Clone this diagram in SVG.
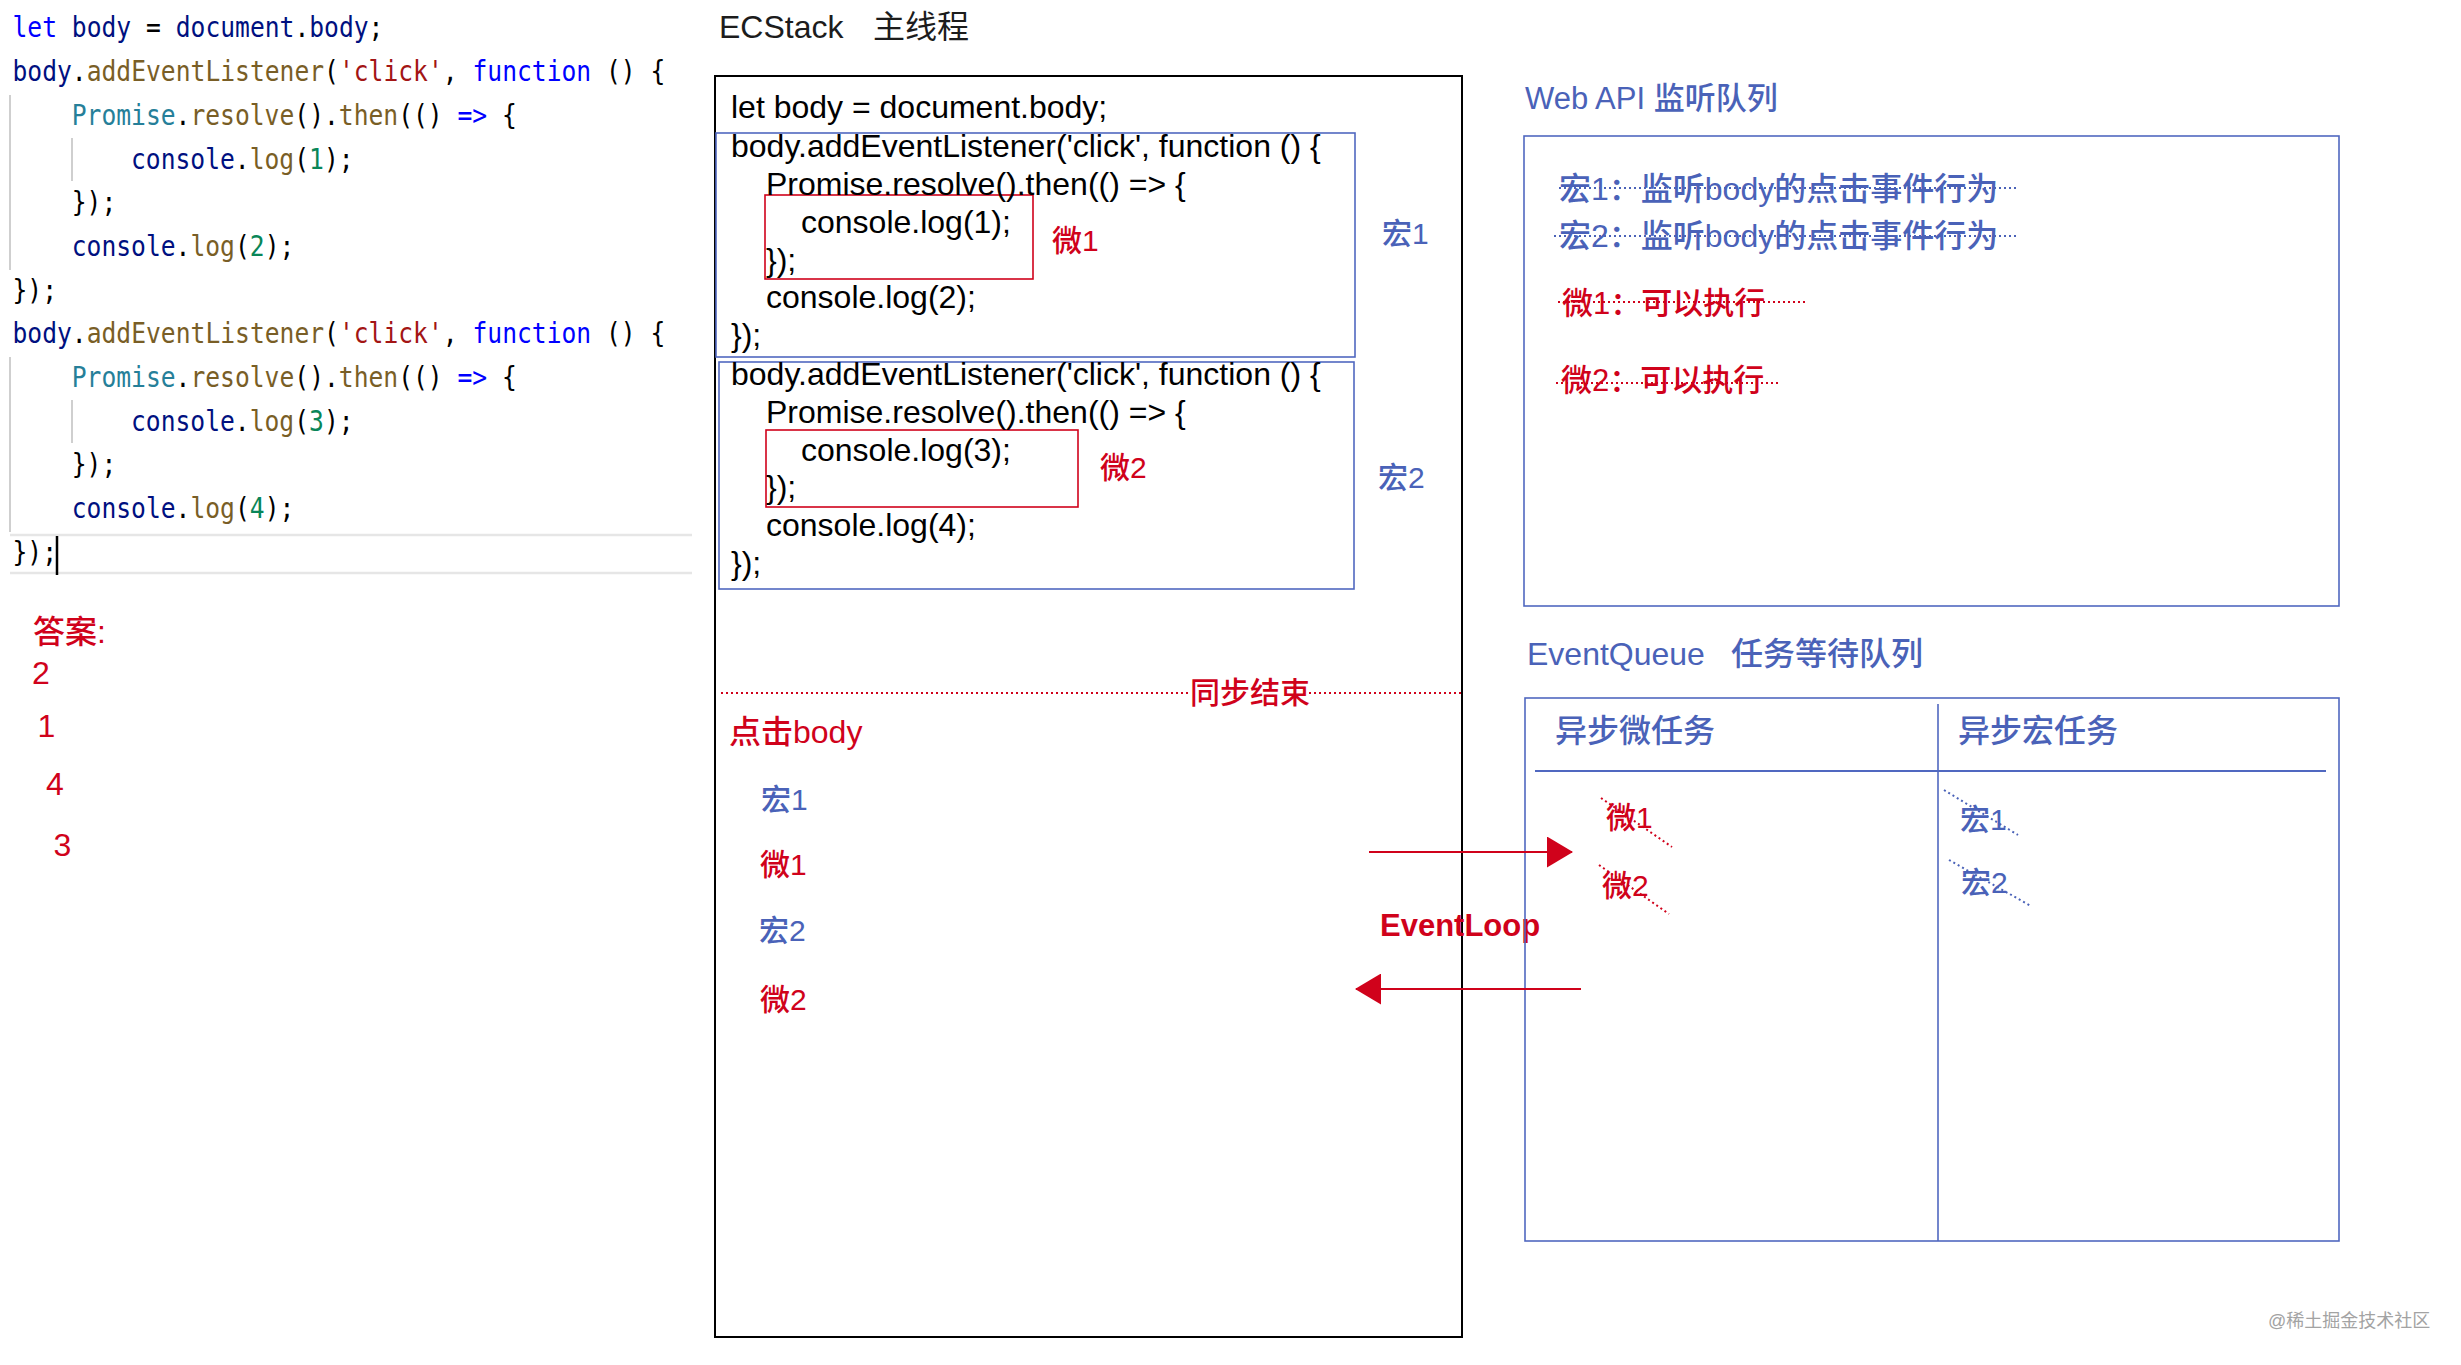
<svg xmlns="http://www.w3.org/2000/svg" width="2461" height="1365" viewBox="0 0 2461 1365">
<defs>
<style>
.mono{font-family:"DejaVu Sans Mono","Liberation Mono",monospace;font-size:29px;fill:#000}
.kw{fill:#0000ff}.var{fill:#001080}.fn{fill:#795e26}.str{fill:#a31515}.ty{fill:#267f99}.num{fill:#098658}
.sans{font-family:"Liberation Sans","Noto Sans CJK SC",sans-serif}
.code{font-size:32px;fill:#000}
.red{fill:#d0021b}.blue{fill:#4a62b8}
.f30{font-size:30px}.f32{font-size:32px}.f31{font-size:31px}
.med{font-weight:500}
.guide{stroke:#cfcfcf;stroke-width:2}
.bluebox{fill:none;stroke:#5068c0;stroke-width:1.6}
.redbox{fill:none;stroke:#d0021b;stroke-width:1.6}
.dotb{stroke:#4a62b8;stroke-width:2;stroke-dasharray:2 3;fill:none}
.dotr{stroke:#d0021b;stroke-width:2;stroke-dasharray:2 3;fill:none}
.arrow{stroke:#d0021b;stroke-width:2;fill:none;marker-end:url(#head)}
</style>
<marker id="head" viewBox="0 0 26 31" markerWidth="26" markerHeight="31" markerUnits="userSpaceOnUse" refX="25" refY="15.5" orient="auto">
<path d="M0,0 L26,15.5 L0,31 z" fill="#d0021b"/>
</marker>
</defs>
<rect width="2461" height="1365" fill="#fff"/>

<g id="source-code">
<line class="guide" x1="10" y1="95" x2="10" y2="270"/>
<line class="guide" x1="72" y1="138" x2="72" y2="181"/>
<line class="guide" x1="10" y1="357" x2="10" y2="532"/>
<line class="guide" x1="72" y1="400" x2="72" y2="443"/>
<line x1="10" y1="535" x2="692" y2="535" stroke="#e6e6e6" stroke-width="2.5"/>
<line x1="10" y1="573" x2="692" y2="573" stroke="#e6e6e6" stroke-width="2.5"/>
<line x1="57" y1="536" x2="57" y2="575" stroke="#000" stroke-width="2.5"/>
<g class="mono" transform="scale(0.85 1)">
<text x="14.7" y="37.5"><tspan class="kw">let</tspan> <tspan class="var">body</tspan> = <tspan class="var">document</tspan>.<tspan class="var">body</tspan>;</text>
<text x="14.7" y="81.2"><tspan class="var">body</tspan>.<tspan class="fn">addEventListener</tspan>(<tspan class="str">'click'</tspan>, <tspan class="kw">function</tspan> () {</text>
<text x="84.4" y="124.9"><tspan class="ty">Promise</tspan>.<tspan class="fn">resolve</tspan>().<tspan class="fn">then</tspan>(() <tspan class="kw">=&gt;</tspan> {</text>
<text x="154.1" y="168.6"><tspan class="var">console</tspan>.<tspan class="fn">log</tspan>(<tspan class="num">1</tspan>);</text>
<text x="84.4" y="212.3">});</text>
<text x="84.4" y="256"><tspan class="var">console</tspan>.<tspan class="fn">log</tspan>(<tspan class="num">2</tspan>);</text>
<text x="14.7" y="299.7">});</text>
<text x="14.7" y="343.4"><tspan class="var">body</tspan>.<tspan class="fn">addEventListener</tspan>(<tspan class="str">'click'</tspan>, <tspan class="kw">function</tspan> () {</text>
<text x="84.4" y="387.1"><tspan class="ty">Promise</tspan>.<tspan class="fn">resolve</tspan>().<tspan class="fn">then</tspan>(() <tspan class="kw">=&gt;</tspan> {</text>
<text x="154.1" y="430.8"><tspan class="var">console</tspan>.<tspan class="fn">log</tspan>(<tspan class="num">3</tspan>);</text>
<text x="84.4" y="474.5">});</text>
<text x="84.4" y="518.2"><tspan class="var">console</tspan>.<tspan class="fn">log</tspan>(<tspan class="num">4</tspan>);</text>
<text x="14.7" y="561.9">});</text>
</g>
</g>

<g id="answer" class="sans red f32">
<text class="med" x="33" y="643">答案:</text>
<text x="32" y="684">2</text>
<text x="37.5" y="736.5">1</text>
<text x="46" y="794.5">4</text>
<text x="53.5" y="855.5">3</text>
</g>

<g id="ecstack">
<text class="sans f32" x="719" y="38" fill="#1c1c1c">ECStack</text>
<text class="sans f32" x="873" y="38" fill="#1c1c1c">主线程</text>
<rect x="715" y="76" width="747" height="1261" fill="none" stroke="#000" stroke-width="2"/>
<g id="macro1-block">
<rect class="bluebox" x="716" y="133" width="639" height="224"/>
<rect class="redbox" x="765" y="195" width="268" height="84"/>
<text class="sans red f30 med" x="1052" y="251">微1</text>
<text class="sans blue f30 med" x="1382" y="244">宏1</text>
</g>
<g id="macro2-block">
<rect class="bluebox" x="719" y="362" width="635" height="227"/>
<rect class="redbox" x="766" y="430" width="312" height="77"/>
<text class="sans red f30 med" x="1100" y="478">微2</text>
<text class="sans blue f30 med" x="1378" y="488">宏2</text>
</g>
<g class="sans code">
<text x="731" y="118">let body = document.body;</text>
<text x="731" y="157">body.addEventListener('click', function () {</text>
<text x="766" y="195">Promise.resolve().then(() =&gt; {</text>
<text x="801" y="233">console.log(1);</text>
<text x="766" y="271">});</text>
<text x="766" y="308">console.log(2);</text>
<text x="731" y="346">});</text>
<text x="731" y="385">body.addEventListener('click', function () {</text>
<text x="766" y="423">Promise.resolve().then(() =&gt; {</text>
<text x="801" y="461">console.log(3);</text>
<text x="766" y="498">});</text>
<text x="766" y="536">console.log(4);</text>
<text x="731" y="574">});</text>
</g>
<g id="sync-end">
<line class="dotr" x1="721" y1="693" x2="1188" y2="693"/>
<line class="dotr" x1="1309" y1="693" x2="1462" y2="693"/>
<text class="sans red f30 med" x="1190" y="703">同步结束</text>
</g>
<g id="run-order" class="sans f30 med">
<text class="red f32" x="729" y="743">点击body</text>
<text class="blue" x="761" y="810">宏1</text>
<text class="red" x="760" y="875">微1</text>
<text class="blue" x="759" y="941">宏2</text>
<text class="red" x="760" y="1010">微2</text>
</g>
</g>

<g id="event-loop">
<text class="sans red" x="1380" y="936" font-size="31" font-weight="bold">EventLoop</text>
</g>

<g id="web-api">
<text class="sans blue f31 med" x="1525" y="109">Web API 监听队列</text>
<rect class="bluebox" x="1524" y="136" width="815" height="470"/>
<text class="sans blue f32 med" x="1559" y="200">宏1：监听body的点击事件行为</text>
<line class="dotb" x1="1559" y1="188" x2="2019" y2="188"/>
<text class="sans blue f32 med" x="1559" y="247">宏2：监听body的点击事件行为</text>
<line class="dotb" x1="1554" y1="236" x2="2017" y2="236"/>
<text class="sans red f31 med" x="1562" y="314">微1：可以执行</text>
<line class="dotr" x1="1558" y1="302" x2="1808" y2="302"/>
<text class="sans red f31 med" x="1561" y="391">微2：可以执行</text>
<line class="dotr" x1="1556" y1="383" x2="1781" y2="383"/>
</g>

<g id="event-queue">
<text class="sans blue f32 med" x="1527" y="665">EventQueue</text>
<text class="sans blue f32 med" x="1731" y="665">任务等待队列</text>
<rect class="bluebox" x="1525" y="698" width="814" height="543"/>
<line x1="1938" y1="704" x2="1938" y2="1241" stroke="#5068c0" stroke-width="1.6"/>
<line x1="1535" y1="771" x2="2326" y2="771" stroke="#5068c0" stroke-width="2"/>
<text class="sans blue f32 med" x="1555" y="742">异步微任务</text>
<text class="sans blue f32 med" x="1958" y="742">异步宏任务</text>
<g id="queue-micro1"><text class="sans red f30 med" x="1606" y="828">微1</text><line class="dotr" x1="1601" y1="798" x2="1672" y2="847"/></g>
<g id="queue-micro2"><text class="sans red f30 med" x="1602" y="896">微2</text><line class="dotr" x1="1599" y1="865" x2="1669" y2="914"/></g>
<g id="queue-macro1"><text class="sans blue f30 med" x="1960" y="830">宏1</text><line class="dotb" x1="1944" y1="790" x2="2018" y2="835"/></g>
<g id="queue-macro2"><text class="sans blue f30 med" x="1961" y="893">宏2</text><line class="dotb" x1="1949" y1="860" x2="2031" y2="906"/></g>
</g>

<g id="connectors">
<line class="arrow" x1="1369" y1="852" x2="1572" y2="852"/>
<line class="arrow" x1="1581" y1="989" x2="1356" y2="989"/>
</g>

<text class="sans" x="2268" y="1327" font-size="18" fill="#a3a3a3">@稀土掘金技术社区</text>
</svg>
